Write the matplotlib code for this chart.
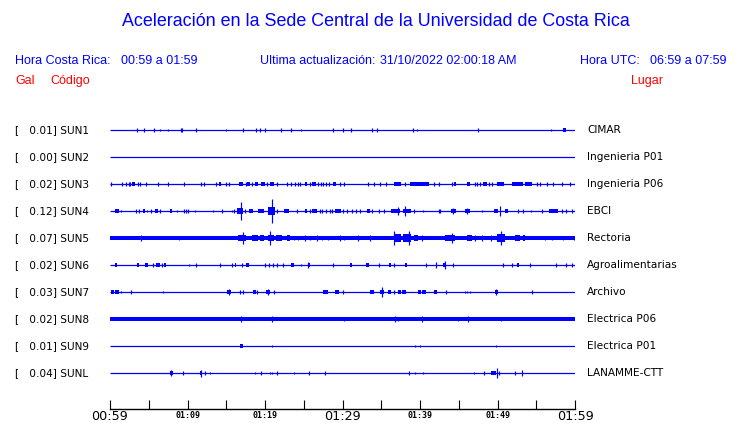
import matplotlib
matplotlib.use("Agg")
import matplotlib.pyplot as plt
import matplotlib.transforms as mtransforms

# ── Data ─────────────────────────────────────────────────────────────
codes = ["SUN1", "SUN2", "SUN3", "SUN4", "SUN5", "SUN6", "SUN7", "SUN8", "SUN9", "SUNL"]
peaks = [0.01, 0.00, 0.02, 0.12, 0.07, 0.02, 0.03, 0.02, 0.01, 0.04]
places = ["CIMAR", "Ingenieria P01", "Ingenieria P06", "EBCI", "Rectoria",
          "Agroalimentarias", "Archivo", "Electrica P06", "Electrica P01", "LANAMME-CTT"]
# background noise half-amplitude (fraction of trace spacing)
noise = [0, 0, 0, 0, 0.075, 0, 0, 0.075, 0, 0]

# minutes after 00:59 of each tick / label
tick_minutes = list(range(0, 61, 5))
tick_labels = ["00:59", "", "01:09", "", "01:19", "", "01:29", "", "01:39", "", "01:49", "", "01:59"]
major_labels = ["00:59", "01:29", "01:59"]

# single peaks: (minute, half-amplitude)
spikes = {
    "SUN1": [(3.5, .06), (4.4, .06), (5.7, .06), (6.4, .05), (7.5, .05), (9.1, .07), (9.3, .07),
             (11.1, .07), (15.0, .04), (17.2, .06), (18.9, .06), (19.4, .06), (20.0, .06),
             (22.0, .06), (23.4, .06), (24.6, .04), (28.8, .06), (30.0, .07), (31.1, .06),
             (33.8, .06), (34.5, .06), (39.1, .06), (39.6, .04), (47.5, .06), (56.9, .04)],
    "SUN2": [],
    "SUN3": [(t, .06) for t in [0.1, 1.5, 2.0, 2.4, 2.6, 3.6, 3.9, 4.7, 6.2, 7.5, 9.5, 11.8, 12.1,
                                 13.7, 15.0, 15.3, 17.5, 18.3, 20.2, 21.6, 22.8, 23.4, 23.9, 24.2,
                                 24.5, 25.8, 26.9, 27.2, 27.5, 27.9, 28.3, 29.7, 30.2, 33.3, 34.0,
                                 34.9, 35.6, 38.1, 41.8, 42.4, 44.1, 47.1, 47.4, 47.8, 48.9, 49.3,
                                 55.1, 55.5, 56.4, 57.2, 58.3, 59.4, 60.0]],
    "SUN4": [(1.4, .05), (3.4, .06), (3.7, .06), (4.8, .05), (5.3, .06), (6.5, .06), (8.7, .05),
             (9.5, .06), (9.8, .06), (10.1, .06), (11.0, .05), (13.3, .05), (14.4, .06),
             (15.7, .05), (16.0, .06), (16.9, .35), (17.4, .06), (20.9, .46), (21.5, .06),
             (24.1, .06), (25.8, .06), (27.1, .06), (27.4, .06), (27.9, .06), (28.4, .06),
             (28.6, .06), (30.1, .06), (30.6, .06), (31.2, .06), (31.8, .06), (32.3, .06),
             (33.8, .06), (34.7, .06), (35.4, .06), (37.2, .16), (38.1, .18), (39.2, .06),
             (40.4, .05), (42.4, .06), (42.6, .06), (44.3, .1), (46.1, .1), (48.0, .05),
             (50.3, .18), (52.7, .06), (53.3, .06), (54.3, .05), (55.7, .06), (58.3, .06),
             (58.9, .06), (59.6, .06), (60.0, .06)],
    "SUN5": [(4.0, .1), (8.9, .09), (17.1, .21), (20.7, .25), (23.7, .09), (24.3, .09), (25.2, .1),
             (25.8, .09), (26.7, .1), (27.3, .09), (28.1, .09), (29.7, .1), (30.2, .09), (32.0, .1),
             (33.6, .1), (36.7, .27), (38.6, .25), (40.3, .1), (44.1, .17), (47.1, .1), (48.0, .1),
             (49.1, .1), (50.5, .26), (56.1, .09), (57.0, .09), (58.4, .09), (59.9, .09)],
    "SUN6": [(5.6, .06), (6.7, .06), (10.2, .04), (11.1, .06), (14.2, .06), (15.7, .06), (17.0, .06),
             (20.0, .06), (20.5, .06), (21.0, .06), (21.6, .06), (22.3, .06), (24.7, .04),
             (25.6, .1), (28.8, .06), (34.7, .06), (36.7, .06), (40.8, .06), (42.0, .1),
             (43.2, .14), (44.3, .06), (50.7, .06), (51.9, .06), (54.2, .06), (57.5, .06),
             (58.8, .06), (59.6, .06)],
    "SUN7": [(1.4, .05), (2.7, .06), (6.9, .04), (15.3, .12), (16.8, .06), (17.1, .06), (19.0, .06),
             (20.4, .12), (21.1, .06), (30.0, .06), (35.1, .18), (36.7, .06), (43.3, .06),
             (45.8, .05), (46.1, .05), (46.5, .05), (49.8, .1), (54.4, .06)],
    "SUN8": [(16.9, .1), (20.9, .1), (30.2, .08), (36.8, .11), (37.2, .09), (40.2, .11),
             (44.9, .08), (46.2, .11), (50.4, .08)],
    "SUN9": [(20.9, .05), (39.4, .04), (40.0, .04), (49.8, .04)],
    "SUNL": [(7.9, .11), (9.4, .07), (11.7, .13), (12.3, .07), (12.9, .05), (18.7, .04), (19.5, .06),
             (20.7, .04), (20.9, .04), (21.6, .06), (23.8, .04), (25.7, .06), (27.7, .06),
             (38.6, .06), (39.4, .04), (40.4, .05), (47.0, .04), (48.3, .06), (49.9, .17),
             (50.2, .06), (52.3, .06), (53.1, .11)],
}

# wave trains: (start minute, end minute, half-amplitude)
bursts = {
    "SUN1": [(58.4, 58.8, .06)],
    "SUN2": [],
    "SUN3": [(2.9, 3.2, .06), (14.0, 14.3, .06), (16.6, 17.1, .06), (17.7, 18.0, .06),
             (18.7, 19.1, .06), (19.5, 20.0, .06), (20.6, 21.1, .08), (25.2, 25.4, .06),
             (26.1, 26.6, .06), (28.8, 29.1, .06), (36.6, 37.6, .07), (38.7, 41.1, .06),
             (44.4, 44.7, .06), (46.0, 46.5, .06), (48.1, 48.6, .06), (49.9, 50.8, .07),
             (51.9, 53.3, .06), (53.5, 54.4, .06)],
    "SUN4": [(0.7, 1.1, .07), (4.2, 4.5, .06), (5.8, 6.2, .06), (7.7, 8.0, .06), (16.4, 17.1, .11),
             (17.9, 18.5, .07), (19.1, 19.9, .07), (20.4, 21.3, .13), (22.5, 23.1, .08),
             (25.2, 25.4, .06), (26.1, 26.7, .07), (29.0, 29.8, .06), (33.1, 33.5, .06),
             (36.3, 37.4, .09), (37.8, 38.9, .08), (44.0, 44.6, .08), (45.8, 46.5, .08),
             (49.5, 50.1, .07), (51.0, 51.4, .06), (56.6, 57.8, .07)],
    "SUN5": [(15.0, 16.5, .085), (16.5, 17.6, .11), (18.3, 19.1, .1), (19.4, 19.9, .095),
             (20.4, 21.1, .12), (21.4, 22.2, .11), (22.8, 23.2, .1), (36.6, 37.6, .13),
             (37.8, 38.9, .13), (39.2, 39.8, .1), (41.1, 42.2, .09), (43.2, 44.5, .11),
             (46.0, 46.7, .12), (49.9, 51.0, .13), (52.3, 52.9, .095), (53.3, 53.5, .095)],
    "SUN6": [(0.6, 0.9, .07), (3.5, 3.8, .07), (4.5, 4.9, .07), (5.9, 6.5, .07), (7.0, 7.2, .07),
             (16.1, 16.3, .07), (17.6, 17.9, .07), (23.3, 23.7, .07), (25.5, 25.8, .07),
             (31.0, 31.2, .07), (33.0, 33.4, .07), (36.0, 36.3, .07), (38.0, 38.3, .07),
             (43.0, 43.4, .07), (52.5, 52.8, .07)],
    "SUN7": [(0.1, 0.5, .06), (0.6, 1.2, .07), (15.1, 15.6, .08), (18.5, 18.8, .07),
             (20.1, 20.7, .08), (27.5, 28.1, .08), (29.0, 29.5, .08), (33.5, 34.1, .07),
             (34.8, 35.4, .08), (35.9, 36.3, .07), (37.2, 37.5, .07), (37.7, 38.2, .07),
             (39.7, 40.1, .07), (40.3, 40.8, .07), (41.8, 42.2, .07), (49.7, 50.0, .07)],
    "SUN8": [],
    "SUN9": [(16.8, 17.1, .06)],
    "SUNL": [(7.8, 8.1, .07), (11.6, 11.9, .08), (49.1, 49.8, .07)],
}

BLUE = "#0000ff"
W, H = 740, 423


def fx(px):
    return px / W


def fy(py):
    return 1 - py / H


fig = plt.figure(figsize=(W / 100, H / 100), dpi=100)
fig.patch.set_facecolor("white")

# trace axes: x = minutes after 00:59, y = station index (top to bottom)
ax = fig.add_axes([fx(110), fy(409.3), fx(575) - fx(110), fy(110) - fy(409.3)])
ax.set_xlim(0, 60)
ax.set_ylim(10.344, -0.741)
for side in ["top", "left", "right"]:
    ax.spines[side].set_visible(False)
ax.spines["bottom"].set_linewidth(1.0)
ax.set_yticks([])
ax.set_xticks(tick_minutes)
ax.set_xticklabels([])
ax.tick_params(axis="x", direction="in", length=6.2, width=0.8)

# time labels under the axis (two sizes as in the original)
xtrans = mtransforms.blended_transform_factory(ax.transData, fig.transFigure)
for t, lab in zip(tick_minutes, tick_labels):
    if not lab:
        continue
    if lab in major_labels:
        ax.text(t, fy(420), lab, transform=xtrans, ha="center", va="baseline",
                fontsize=9.2, family="DejaVu Sans", clip_on=False)
    else:
        ax.text(t, fy(417.6), lab, transform=xtrans, ha="center", va="baseline",
                fontsize=6, family="DejaVu Sans Mono", fontweight="bold", clip_on=False)

for i, code in enumerate(codes):
    ax.hlines(i, 0, 60, color=BLUE, lw=0.9)
    if noise[i] > 0:
        ax.fill_between([0, 60], i - noise[i], i + noise[i], color=BLUE, lw=0)
    for t0, t1, a in bursts[code]:
        ax.bar(t0, 2 * a, width=t1 - t0, bottom=i - a, align="edge", color=BLUE, lw=0)
    if spikes[code]:
        ts = [s[0] for s in spikes[code]]
        amps = [s[1] for s in spikes[code]]
        ax.vlines(ts, [i - a for a in amps], [i + a for a in amps], color=BLUE, lw=0.85)

# station labels
trans = mtransforms.blended_transform_factory(fig.transFigure, ax.transData)
for i, code in enumerate(codes):
    ax.text(fx(15), i, f"[{peaks[i]:7.2f}] {code}", transform=trans, fontsize=7.6,
            va="center", ha="left", color="black")
    ax.text(fx(587), i, places[i], transform=trans, fontsize=7.6,
            va="center", ha="left", color="black")

# header
hfont = "Liberation Sans"
fig.text(fx(375.5), fy(22), "Aceleración en la Sede Central de la Universidad de Costa Rica",
         ha="center", va="center", color=BLUE, fontsize=12.9, family=hfont)
fig.text(fx(15), fy(61), "Hora Costa Rica:", va="center", color=BLUE, fontsize=9, family=hfont)
fig.text(fx(121), fy(61), "00:59 a 01:59", va="center", color=BLUE, fontsize=9, family=hfont)
fig.text(fx(260), fy(61), "Ultima actualización:", va="center", color=BLUE, fontsize=9, family=hfont)
fig.text(fx(380), fy(61), "31/10/2022 02:00:18 AM", va="center", color=BLUE, fontsize=9, family=hfont)
fig.text(fx(580.5), fy(61), "Hora UTC:", va="center", color=BLUE, fontsize=9, family=hfont)
fig.text(fx(650.5), fy(61), "06:59 a 07:59", va="center", color=BLUE, fontsize=9, family=hfont)
fig.text(fx(15), fy(81), "Gal", va="center", color="#ff0000", fontsize=9, family=hfont)
fig.text(fx(50), fy(81), "Código", va="center", color="#ff0000", fontsize=9, family=hfont)
fig.text(fx(630.5), fy(81), "Lugar", va="center", color="#ff0000", fontsize=9, family=hfont)

fig.savefig("out.png", dpi=100, facecolor="white")
